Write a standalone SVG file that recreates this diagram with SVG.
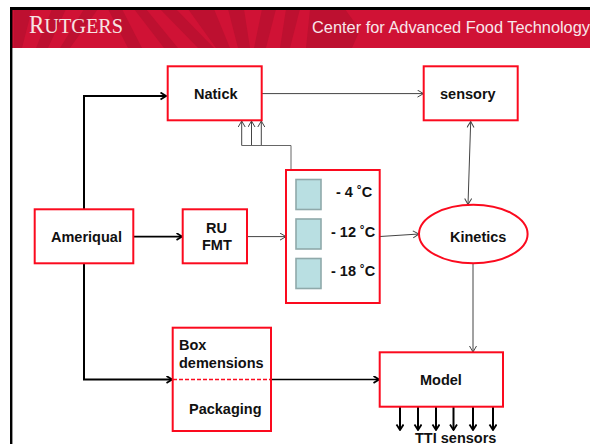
<svg xmlns="http://www.w3.org/2000/svg" width="590" height="444" viewBox="0 0 590 444">
<style>
text{font-family:"Liberation Sans",Arial,sans-serif;font-weight:bold;font-size:14.5px;fill:#111}
.box{fill:#fff;stroke:#fb0a1e;stroke-width:2}
.sw{fill:#b9dfe2;stroke:#8fa9aa;stroke-width:1.6}
.thin{fill:none;stroke:#444;stroke-width:1}
.thick{fill:none;stroke:#000;stroke-width:2}
.ray{fill:#bd1030}
</style>
<defs>
<marker id="a" markerWidth="8" markerHeight="10" refX="7" refY="4" orient="auto-start-reverse" markerUnits="userSpaceOnUse"><path d="M1 0.5L7 4L1 7.5" fill="none" stroke="#444" stroke-width="1"/></marker>
<marker id="b" markerWidth="8" markerHeight="10" refX="7" refY="4" orient="auto" markerUnits="userSpaceOnUse"><path d="M1.5 0.5L7 4L1.500 7.500" fill="none" stroke="#000" stroke-width="1.800"/></marker>
</defs>
<rect width="590" height="444" fill="#fff"/>
<g id="header">
<rect x="12" y="9" width="578" height="39" fill="#d01235"/>
<path class="ray" d="M14 9L32 9L22 48L14 48ZM52 9H66L48 48H36ZM84 9H98L70 48H60ZM108 9H122L142 48H128ZM134 9H146L178 48H164ZM160 9H176L214 48H198ZM188 9H214L230 48H216ZM228 9H244L250 48H238ZM262 9H276L266 48H254ZM286 9H300L290 48H280ZM310 9L345 9L360 30L352 48H306Z"/>
<rect x="10" y="7" width="580" height="3" fill="#000"/>
<rect x="10" y="7" width="2.400" height="437" fill="#000"/>
<text x="29" y="33" style="font-family:'Liberation Serif',serif;font-weight:normal;font-size:22px;fill:#f6e3e3" textLength="94" lengthAdjust="spacingAndGlyphs"><tspan font-size="25">R</tspan>UTGERS</text>
<text x="312" y="33" style="font-weight:normal;font-size:16px;fill:#f8e6ea" textLength="278" lengthAdjust="spacingAndGlyphs">Center for Advanced Food Technology</text>
</g>
<g id="connectors">
<path class="thick" d="M84 209V96H166" marker-end="url(#b)"/>
<path class="thick" d="M84 263V379.500H172" marker-end="url(#b)"/>
<path class="thick" d="M133 236.600H182" marker-end="url(#b)" style="stroke-width:1.700"/>
<path class="thick" d="M271 379.500H379" marker-end="url(#b)" style="stroke-width:1.700"/>
<path class="thin" d="M247 236.600H286" marker-end="url(#a)"/>
<path class="thin" d="M380 236.500L419 234" marker-end="url(#a)"/>
<path class="thin" d="M262 93.600H423.500" marker-end="url(#a)"/>
<path class="thin" d="M470.700 121.500L468 204.500" marker-start="url(#a)" marker-end="url(#a)"/>
<path class="thin" d="M473 264V352" marker-end="url(#a)"/>
<path class="thin" d="M241.700 145.500V121" marker-end="url(#a)"/>
<path class="thin" d="M251.500 145.500V121" marker-end="url(#a)"/>
<path class="thin" d="M261.300 145.500V121" marker-end="url(#a)"/>
<path class="thin" d="M241.700 145.500H291V170" style="stroke:#666"/>
<g>
<path class="thick" d="M400 407V430" marker-end="url(#b)"/>
<path class="thick" d="M418 407V430" marker-end="url(#b)"/>
<path class="thick" d="M436 407V430" marker-end="url(#b)"/>
<path class="thick" d="M453.500 407V430" marker-end="url(#b)"/>
<path class="thick" d="M473 407V430" marker-end="url(#b)"/>
<path class="thick" d="M493 407V430" marker-end="url(#b)"/>
</g>
</g>
<g id="natick"><rect class="box" x="167.700" y="66.300" width="94" height="54"/><text x="194" y="99">Natick</text></g>
<g id="sensory"><rect class="box" x="423.700" y="66.300" width="94" height="54"/><text x="440" y="99">sensory</text></g>
<g id="ameriqual"><rect class="box" x="34.700" y="209.300" width="98.600" height="54"/><text x="51" y="242">Ameriqual</text></g>
<g id="ru-fmt"><rect class="box" x="182.700" y="209.300" width="64.300" height="54"/><text x="206" y="233">RU</text><text x="202" y="250">FMT</text></g>
<g id="temperatures"><rect class="box" x="286" y="170" width="93.700" height="133"/>
<rect class="sw" x="296" y="179.500" width="25" height="30"/><rect class="sw" x="296" y="219" width="25" height="30"/><rect class="sw" x="296" y="258.500" width="25" height="30"/>
<text x="336" y="197">- 4 ˚C</text><text x="331" y="237">- 12 ˚C</text><text x="331" y="276">- 18 ˚C</text></g>
<g id="kinetics"><ellipse class="box" cx="473.300" cy="234" rx="54.300" ry="29.300"/><text x="450" y="242">Kinetics</text></g>
<g id="packaging"><rect class="box" x="172.700" y="327.700" width="98.300" height="103.300"/><path d="M173 379.500H271" fill="none" stroke="#fb0a1e" stroke-width="1.300" stroke-dasharray="4 2"/><text x="179" y="350">Box</text><text x="179" y="368">demensions</text><text x="189" y="414">Packaging</text></g>
<g id="model"><rect class="box" x="379.700" y="352.300" width="123.300" height="54.400"/><text x="420" y="385">Model</text></g>
<g id="tti"><text x="415" y="443">TTI sensors</text></g>
</svg>
